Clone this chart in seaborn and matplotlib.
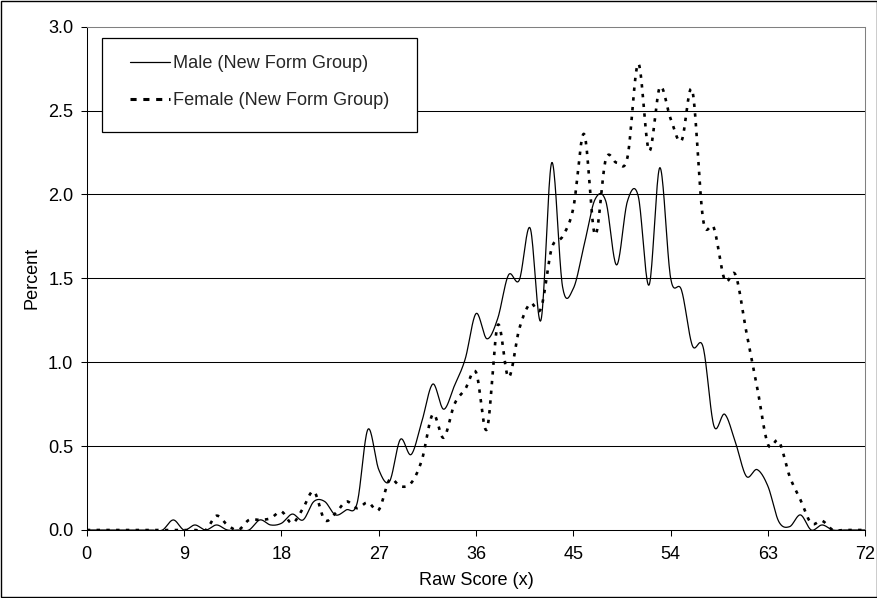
import numpy as np
import pandas as pd
import matplotlib
matplotlib.use("Agg")
import matplotlib.pyplot as plt
import seaborn as sns
from matplotlib.patches import Rectangle
from matplotlib.lines import Line2D

# ---------------- data ----------------
raw_score = list(range(0, 73))
male_pct = [0, 0, 0, 0, 0, 0, 0, 0, 0.06, 0,
            0.03, 0, 0.03, 0, 0, 0, 0.06, 0.03, 0.04, 0.095,
            0.06, 0.17, 0.17, 0.09, 0.12, 0.16, 0.60, 0.36, 0.29, 0.54,
            0.45, 0.65, 0.87, 0.72, 0.86, 1.02, 1.29, 1.14, 1.26, 1.52,
            1.49, 1.80, 1.25, 2.19, 1.45, 1.44, 1.70, 1.97, 1.96, 1.58,
            1.96, 1.99, 1.46, 2.16, 1.50, 1.43, 1.10, 1.09, 0.62, 0.69,
            0.52, 0.32, 0.36, 0.26, 0.05, 0.02, 0.09, 0.0, 0.03, 0,
            0, 0, 0]
female_pct = [0, 0, 0, 0, 0, 0, 0, 0, 0, 0,
              0, 0, 0.085, 0.03, 0.0, 0.06, 0.06, 0.07, 0.11, 0.04,
              0.13, 0.23, 0.06, 0.10, 0.17, 0.13, 0.165, 0.12, 0.30, 0.26,
              0.28, 0.42, 0.69, 0.55, 0.75, 0.84, 0.94, 0.60, 1.22, 0.91,
              1.20, 1.35, 1.32, 1.68, 1.75, 1.92, 2.36, 1.76, 2.21, 2.19,
              2.22, 2.78, 2.26, 2.64, 2.45, 2.32, 2.62, 1.85, 1.80, 1.49,
              1.52, 1.18, 0.85, 0.51, 0.53, 0.32, 0.18, 0.04, 0.055, 0,
              0, 0, 0]
series_names = ["Male (New Form Group)", "Female (New Form Group)"]
x_ticks = [0, 9, 18, 27, 36, 45, 54, 63, 72]
y_ticks = [0.0, 0.5, 1.0, 1.5, 2.0, 2.5, 3.0]
y_tick_labels = ["0.0", "0.5", "1.0", "1.5", "2.0", "2.5", "3.0"]
x_label = "Raw Score (x)"
y_label = "Percent"


def smoothed(x, y, n=20):
    """Excel-style smoothed line: cubic Bezier segments through the points."""
    x = np.asarray(x, float)
    y = np.asarray(y, float)
    P = np.column_stack([x, y])
    Pp = np.vstack([P[:1], P, P[-1:]])
    t = np.linspace(0, 1, n, endpoint=False)[:, None]
    out = []
    for i in range(len(P) - 1):
        p0, p1, p2, p3 = Pp[i], Pp[i + 1], Pp[i + 2], Pp[i + 3]
        c1 = p1 + (p2 - p0) / 6.0
        c2 = p2 - (p3 - p1) / 6.0
        seg = ((1 - t) ** 3) * p1 + 3 * ((1 - t) ** 2) * t * c1 \
            + 3 * (1 - t) * t ** 2 * c2 + t ** 3 * p2
        out.append(seg)
    out.append(P[-1:])
    out = np.vstack(out)
    return pd.DataFrame({"x": out[:, 0], "y": out[:, 1]})


sns.set_theme(style="white")
plt.rcParams["font.family"] = ["Liberation Sans", "DejaVu Sans"]
FS = 13.1

fig = plt.figure(figsize=(8.78, 5.98), dpi=100)
ax = fig.add_axes([86.8 / 878, 1 - 530 / 598, 778.5 / 878, 503.3 / 598])

df_m = smoothed(raw_score, male_pct)
df_f = smoothed(raw_score, female_pct)
sns.lineplot(data=df_m, x="x", y="y", ax=ax, color="black", linewidth=0.9,
             sort=False, estimator=None, legend=False, zorder=3)
sns.lineplot(data=df_f, x="x", y="y", ax=ax, color="black", linewidth=1.9,
             sort=False, estimator=None, legend=False, zorder=3)
ax.lines[-1].set_linestyle((0, (1.3, 2.4)))

ax.set_xlim(0, 72)
ax.set_ylim(0, 3.0)
ax.set_xticks(x_ticks)
ax.set_xticklabels([str(v) for v in x_ticks])
ax.set_yticks(y_ticks)
ax.set_yticklabels(y_tick_labels)
ax.tick_params(axis="both", which="major", direction="out", length=4.2,
               width=0.75, color="black", labelsize=FS, labelcolor="black",
               left=True, bottom=True)
ax.tick_params(axis="y", pad=5.5)
ax.tick_params(axis="x", pad=7.5)

ax.yaxis.grid(True, color="black", linewidth=0.75)
ax.xaxis.grid(False)
ax.get_ygridlines()[-1].set_visible(False)
ax.get_ygridlines()[0].set_visible(False)
ax.set_axisbelow(True)

for s in ["left", "bottom"]:
    ax.spines[s].set_color("black")
    ax.spines[s].set_linewidth(0.75)
for s in ["top", "right"]:
    ax.spines[s].set_color("#808080")
    ax.spines[s].set_linewidth(0.75)

ax.set_xlabel(x_label, fontsize=FS, color="black")
ax.set_ylabel(y_label, fontsize=FS, color="black")
ax.xaxis.set_label_coords(0.5, -0.083)
ax.yaxis.set_label_coords(-0.059, 0.5)

# legend box
ax.add_patch(Rectangle((0.0191, 0.7914), 0.405, 0.1855, transform=ax.transAxes,
                       facecolor="white", edgecolor="black", linewidth=0.9,
                       zorder=5))
handles = [Line2D([], [], color="black", linewidth=0.9),
           Line2D([], [], color="black", linewidth=2.2, linestyle=(0, (2.0, 2.2)))]
leg = ax.legend(handles, series_names, frameon=False, loc="upper left",
                bbox_to_anchor=(0.0555, 0.944), borderpad=0, borderaxespad=0,
                handlelength=2.2, handletextpad=0.15, labelspacing=1.1,
                fontsize=FS)
leg.set_zorder(6)

# outer border
fig.patches.append(Rectangle((0.0008, 0.0012), 0.998, 0.9976,
                             transform=fig.transFigure, fill=False,
                             edgecolor="black", linewidth=1.0))

fig.savefig("out.png", dpi=100, facecolor="white")
